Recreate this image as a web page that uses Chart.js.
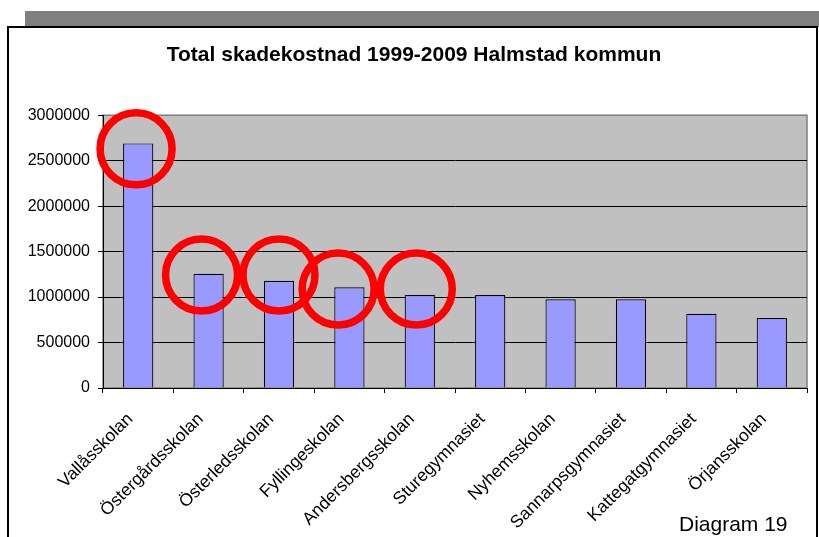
<!DOCTYPE html>
<html>
<head>
<meta charset="utf-8">
<script src="https://cdn.jsdelivr.net/npm/chart.js@4"></script>
<style>
  body { margin: 0; background: #fff; }
  #wrap { position: relative; width: 819px; height: 537px; overflow: hidden; }
  #band { position: absolute; left: 25px; top: 11px; width: 794px; height: 16px; background: #808080; }
  #frame { position: absolute; left: 7px; top: 26px; width: 811px; height: 600px; border: 2px solid #000; box-sizing: border-box; }
  #chart { position: absolute; left: 0; top: 0; }
  #note { position: absolute; left: 679px; top: 513px; font: 21px 'Liberation Sans', Arial, sans-serif; line-height: 21px; color: #000; }
</style>
</head>
<body>
<div id="wrap">
  <div id="band"></div>
  <div id="frame"></div>
  <canvas id="chart" width="819" height="537"></canvas>
  <div id="note">Diagram 19</div>
</div>
<script>
// Skolor och total skadekostnad (kr)
const schools = ['Vallåsskolan', 'Östergårdsskolan', 'Österledsskolan', 'Fyllingeskolan', 'Andersbergsskolan',
  'Sturegymnasiet', 'Nyhemsskolan', 'Sannarpsgymnasiet', 'Kattegatgymnasiet', 'Örjansskolan'];
const damageCost = [2690000, 1256000, 1180000, 1107000, 1022000, 1022000, 975000, 975000, 816000, 769000];
const yTickValues = [0, 500000, 1000000, 1500000, 2000000, 2500000, 3000000];

// red rings drawn around the first five bars (category position, value)
const ringX = [-0.03, 0.9, 2.0, 2.84, 3.95];
const ringY = [2630000, 1242000, 1242000, 1088000, 1088000];

const FONT = "'Liberation Sans', Arial, sans-serif";

// grey plot background like the Excel original
const plotBg = {
  id: 'plotBg',
  beforeDraw(chart) {
    const a = chart.chartArea;
    const ctx = chart.ctx;
    ctx.save();
    ctx.fillStyle = '#C0C0C0';
    ctx.fillRect(a.left, a.top, a.right - a.left, a.bottom - a.top);
    ctx.strokeStyle = '#808080';
    ctx.lineWidth = 1.5;
    ctx.strokeRect(a.left, a.top, a.right - a.left, a.bottom - a.top);
    ctx.restore();
  }
};

// red rings, placed through the chart scales
const rings = {
  id: 'rings',
  afterDatasetsDraw(chart) {
    const ctx = chart.ctx;
    const xs = chart.scales.x, ys = chart.scales.y;
    ctx.save();
    ctx.strokeStyle = '#FF0000';
    ctx.lineWidth = 7.5;
    ringX.forEach((v, i) => {
      ctx.beginPath();
      ctx.arc(xs.getPixelForValue(v), ys.getPixelForValue(ringY[i]), 36, 0, Math.PI * 2);
      ctx.stroke();
    });
    ctx.restore();
  }
};

new Chart(document.getElementById('chart'), {
  type: 'bar',
  data: {
    labels: schools,
    datasets: [{
      label: 'Total skadekostnad',
      data: damageCost,
      backgroundColor: '#9999FF',
      borderColor: '#000',
      borderWidth: 1.2,
      barPercentage: 0.43,
      categoryPercentage: 1.0
    }]
  },
  options: {
    responsive: false,
    animation: false,
    layout: { padding: { left: 21, right: 12, top: 0, bottom: 0 } },
    plugins: {
      legend: { display: false },
      tooltip: { enabled: false },
      title: {
        display: true,
        text: 'Total skadekostnad 1999-2009 Halmstad kommun',
        color: '#000',
        font: { family: FONT, size: 21, weight: 'bold' },
        padding: { top: 43, bottom: 47 }
      }
    },
    scales: {
      x: {
        grid: { drawOnChartArea: false, color: '#000', tickLength: 5 },
        border: { color: '#000', width: 1 },
        ticks: {
          color: '#000',
          font: { family: FONT, size: 17.5 },
          maxRotation: 45,
          minRotation: 45,
          padding: 16,
          labelOffset: -8
        },
        afterFit(scale) { scale.height = 149; }
      },
      y: {
        min: 0,
        max: 3000000,
        afterBuildTicks(scale) { scale.ticks = yTickValues.map(v => ({ value: v })); },
        afterFit(scale) { scale.width = 82; },
        grid: {
          color: ctx => (ctx.tick && ctx.tick.value === 3000000 ? '#808080' : '#000'),
          tickColor: '#000',
          tickLength: 5
        },
        border: { color: '#000', width: 1 },
        ticks: {
          color: '#000',
          font: { family: FONT, size: 16 },
          padding: 8,
          callback: v => String(v)
        }
      }
    }
  },
  plugins: [plotBg, rings]
});
</script>
</body>
</html>
